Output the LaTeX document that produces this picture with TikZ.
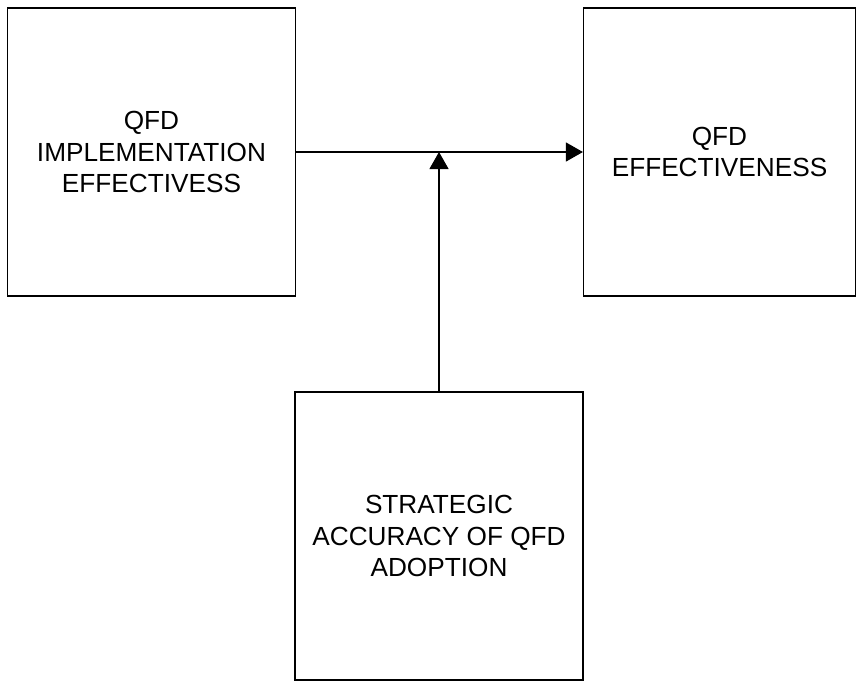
\documentclass[tikz,border=0pt]{standalone}
\usepackage{fontspec}
\setmainfont{Liberation Sans}
\usetikzlibrary{arrows.meta}
\begin{document}
\begin{tikzpicture}[x=1pt,y=1pt,
  boxnode/.style={draw=black,line width=1.2pt,inner sep=0pt,align=center,
    font=\fontsize{26.2}{31.7}\selectfont,minimum height=288pt},
  conn/.style={line width=1.2pt,-{Triangle[length=17pt,width=19pt]}}]
\useasboundingbox (0,0) rectangle (864,-681);
\node[boxnode,minimum width=288pt] (left) at (151.5,-152) {QFD\\IMPLEMENTATION\\EFFECTIVESS};
\node[boxnode,minimum width=272pt] (right) at (719.5,-152) {QFD\\EFFECTIVENESS};
\node[boxnode,minimum width=288pt] (bottom) at (439,-536) {STRATEGIC\\ACCURACY OF QFD\\ADOPTION};
\coordinate (j) at (bottom.north |- left.east);
\draw[conn] (left.east) -- (right.west);
\draw[conn] (bottom.north) -- (j);
\end{tikzpicture}
\end{document}
